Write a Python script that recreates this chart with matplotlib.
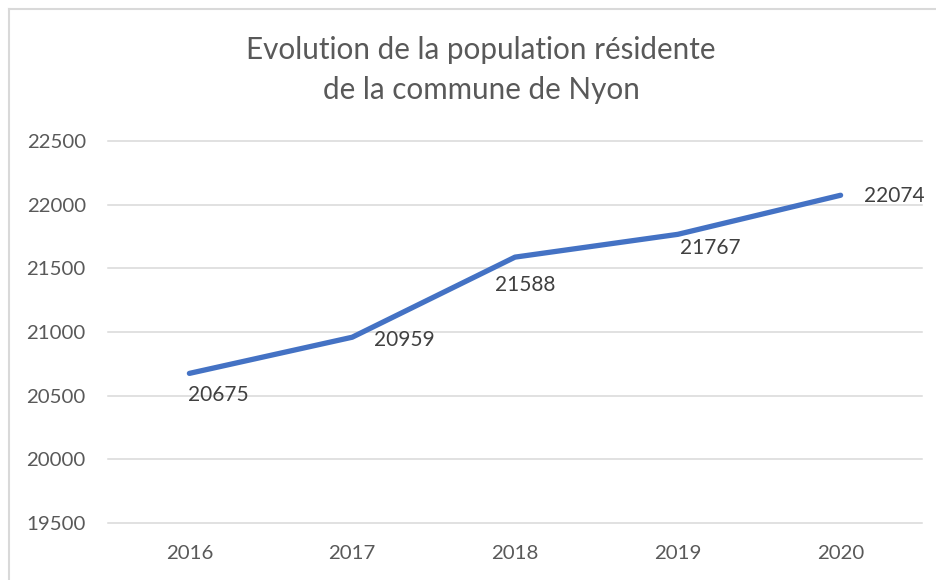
import matplotlib
matplotlib.use("Agg")
import matplotlib.pyplot as plt
from matplotlib.lines import Line2D

years = ["2016", "2017", "2018", "2019", "2020"]
population = [20675, 20959, 21588, 21767, 22074]
y_ticks = [19500, 20000, 20500, 21000, 21500, 22000, 22500]
title = "Evolution de la population résidente\nde la commune de Nyon"

# label offsets in pixels (layout only)
label_offsets = [(-1, -22), (22, -3), (-20, -28), (2, -14), (23, -1)]

plt.rcParams['font.family'] = ['Lato', 'DejaVu Sans']

W, H = 936, 580
fig = plt.figure(figsize=(W / 100, H / 100), dpi=100)
ax = fig.add_axes([108 / W, 1 - 523 / H, (922 - 108) / W, (523 - 141) / H])

x = list(range(len(years)))
ax.plot(x, population, color="#4472C4", lw=3.8, solid_capstyle="round",
        solid_joinstyle="round", zorder=3)

for xi, v, (dx, dy) in zip(x, population, label_offsets):
    ax.annotate(str(v), (xi, v), xytext=(dx, dy), textcoords="offset pixels",
                ha="left", va="center", fontsize=15, color="#404040", zorder=4)

ax.set_xlim(-0.5, len(years) - 0.5)
ax.set_ylim(y_ticks[0], y_ticks[-1])
ax.set_yticks(y_ticks)
ax.set_yticklabels([str(t) for t in y_ticks])
ax.set_xticks(x)
ax.set_xticklabels(years)
ax.yaxis.grid(True, color="#d9d9d9", lw=1.1)
ax.set_axisbelow(True)
for s in ax.spines.values():
    s.set_visible(False)
ax.tick_params(axis="both", length=0, labelsize=14.7, labelcolor="#595959")
ax.tick_params(axis="y", pad=16)
ax.tick_params(axis="x", pad=16)
for gl in ax.get_ygridlines():
    gl.set_clip_on(False)

fig.text(481 / W, 1 - 70 / H, title, ha="center", va="center", fontsize=21.3,
         color="#595959", linespacing=1.5)

# outer chart frame (cropped on right and bottom)
fig.add_artist(Line2D([8.5 / W, 1.0], [1 - 9 / H, 1 - 9 / H], transform=fig.transFigure,
                      color="#d9d9d9", lw=1.5))
fig.add_artist(Line2D([8.5 / W, 8.5 / W], [0.0, 1 - 9 / H], transform=fig.transFigure,
                      color="#d9d9d9", lw=1.5))

fig.savefig("out.png", dpi=100)
